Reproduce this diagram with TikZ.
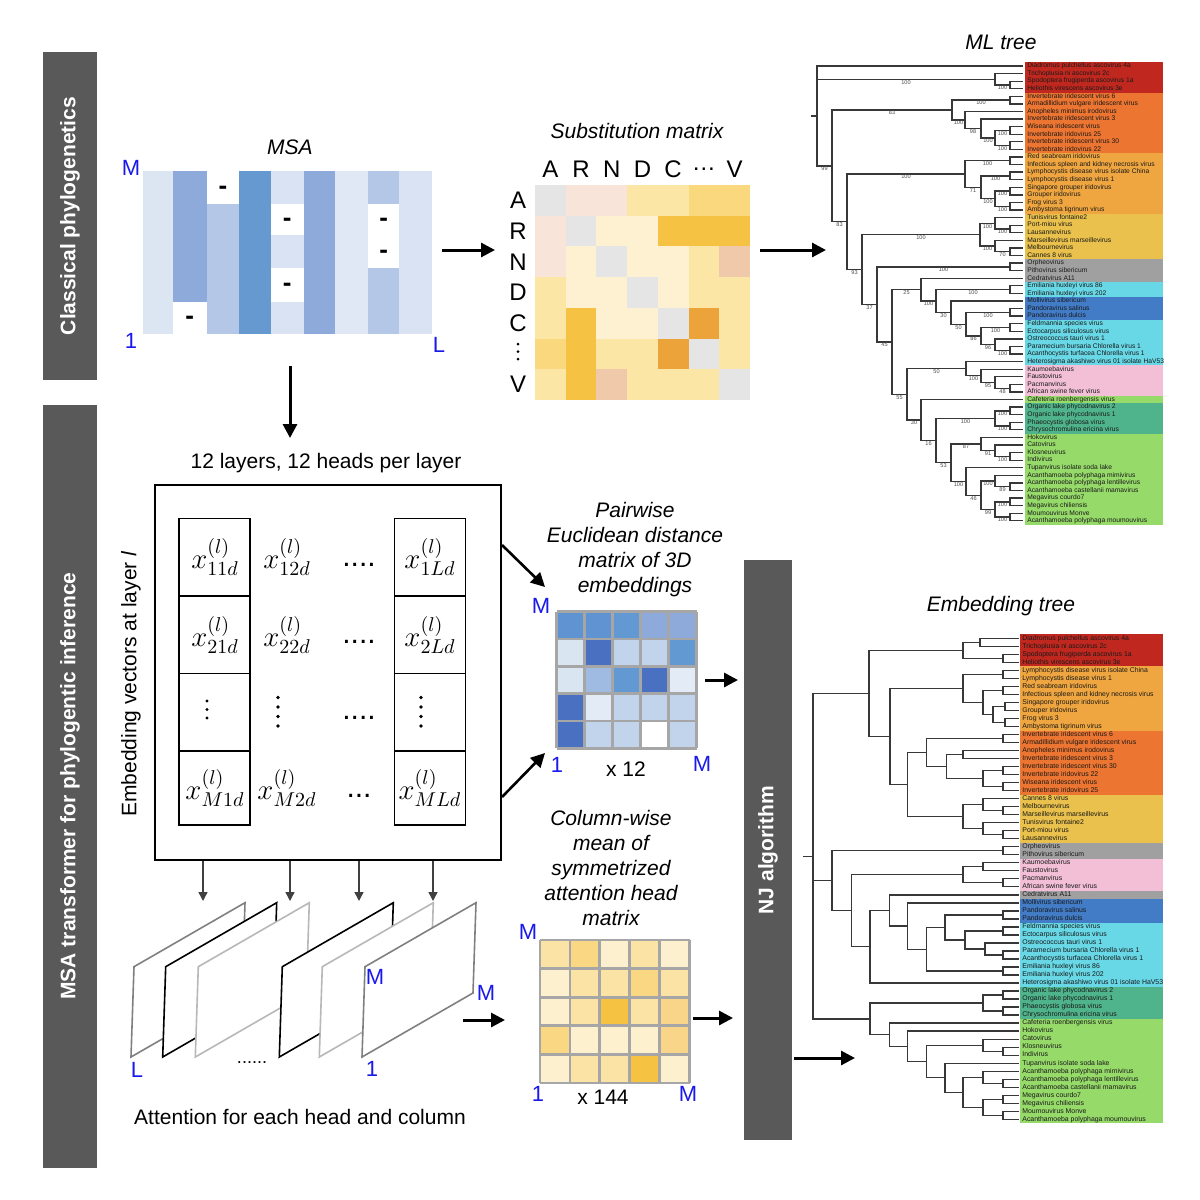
\documentclass[tikz,border=0pt]{standalone}
\usepackage{fontspec}
\setmainfont{Liberation Sans}
\usetikzlibrary{calc,arrows.meta}
\definecolor{barg}{HTML}{595959}
\definecolor{lblue}{RGB}{25,25,235}
% MSA
\definecolor{qa}{HTML}{DCE6F2}\definecolor{qb}{HTML}{8EAADB}\definecolor{qc}{HTML}{B4C7E7}
\definecolor{qd}{HTML}{6699D0}\definecolor{qe}{HTML}{DAE3F3}\definecolor{qf}{HTML}{DFE8F4}
% substitution
\definecolor{sg}{HTML}{E5E5E5}\definecolor{sp}{HTML}{F8E4D9}\definecolor{sc}{HTML}{FDF1D2}
\definecolor{sl}{HTML}{FCE6A6}\definecolor{sy}{HTML}{FAD97E}\definecolor{ss}{HTML}{F5C244}
\definecolor{so}{HTML}{ECA43A}\definecolor{sa}{HTML}{F0C9AA}
% distance
\definecolor{da}{HTML}{5F93D1}\definecolor{db}{HTML}{6299D3}\definecolor{dc}{HTML}{8EAADB}
\definecolor{dd}{HTML}{4A70C1}\definecolor{dl}{HTML}{DAE5F2}\definecolor{dm}{HTML}{C2D4EC}
\definecolor{dx}{HTML}{9FBBE1}\definecolor{dw}{HTML}{FFFFFF}\definecolor{de}{HTML}{E3ECF6}
% attention
\definecolor{aa}{HTML}{FDF0CF}\definecolor{ab}{HTML}{FBE3A6}\definecolor{ac}{HTML}{F9D783}
\definecolor{ad}{HTML}{F5C242}\definecolor{ae}{HTML}{F9D58A}
\definecolor{gridg}{HTML}{A6A6A6}
% tree groups
\definecolor{tred}{HTML}{C0281F}\definecolor{torange}{HTML}{EC7531}\definecolor{tlorange}{HTML}{EFA640}
\definecolor{tyellow}{HTML}{E9C14C}\definecolor{tgrey}{HTML}{A0A0A0}\definecolor{tcyan}{HTML}{68D8E6}
\definecolor{tblue}{HTML}{427BC6}\definecolor{tpink}{HTML}{F2BFD7}\definecolor{tgreen}{HTML}{96DA6A}
\definecolor{tteal}{HTML}{4FB48B}
\definecolor{pgray}{HTML}{808080}\definecolor{plgray}{HTML}{B8B8B8}

\newcommand\mlclade[6]{%
  \path ($(#3)!0.5!(#5)$) coordinate (tmp);
  \coordinate (#1) at (tmp -| #2,0);
  \draw[br] (#1) |- node[bs,pos=0.75]{#4} (#3);
  \draw[br] (#1) |- node[bs,pos=0.75]{#6} (#5);
}
\newcommand\emclade[4]{%
  \path ($(#3)!0.5!(#4)$) coordinate (tmp);
  \coordinate (#1) at (tmp -| #2,0);
  \draw[br] (#1) |- (#3);
  \draw[br] (#1) |- (#4);
}
\newcommand\mlbox[3]{\fill[#3] (1025,{66+(#1-1)*7.58-3.79}) rectangle (1163,{66+(#2-1)*7.58+3.79});}
\newcommand\embox[3]{\fill[#3] (1020,{638.3+(#1-1)*8.017-4.01}) rectangle (1163,{638.3+(#2-1)*8.017+4.01});}

\begin{document}
\begin{tikzpicture}[x=0.5pt,y=-0.5pt,
  br/.style={draw=black!78,line width=0.65pt},
  bs/.style={anchor=north,inner sep=0.15pt,font=\fontsize{2.8}{3}\selectfont,text=black!70},
  leaf/.style={anchor=west,inner sep=0pt,font=\fontsize{3.35}{3.5}\selectfont,text=black!90,text height=2.4pt,text depth=0.6pt},
  bigarr/.style={line width=1.5pt,-{Triangle[length=7pt,width=7pt]}},
  smarr/.style={draw=black!75,line width=0.7pt,-{Triangle[length=4.5pt,width=4.5pt]}},
  bartext/.style={rotate=90,text=white,font=\fontsize{10.5}{12}\selectfont\bfseries},
  lbl/.style={text=lblue,font=\fontsize{11}{11}\selectfont,inner sep=0pt},
  ttl/.style={font=\fontsize{10.5}{12.5}\selectfont\itshape,align=center,inner sep=0pt},
  body/.style={font=\fontsize{10.5}{12.5}\selectfont,inner sep=0pt},
  mth/.style={font=\fontsize{14}{14}\selectfont,inner sep=0pt},
  gapdash/.style={font=\fontsize{13}{13}\selectfont\bfseries,inner sep=0pt,yshift=-1.4pt}
]
\fill[white] (0,0) rectangle (1200,1200);
\useasboundingbox (0,0) rectangle (1200,1200);

% ---------- side bars ----------
\fill[barg] (43,52) rectangle (97,380);
\node[bartext] (bar1) at (70,216) {Classical phylogenetics};
\fill[barg] (43,405) rectangle (97,1168);
\node[bartext] (bar2) at (70,786) {MSA transformer for phylogentic inference};
\fill[barg] (744,560) rectangle (792,1140);
\node[bartext] (nj) at (768,850) {NJ algorithm};

% ---------- MSA ----------
\node[ttl] (msat) at (290,147) {MSA};
\fill[qa] (142.7,170.7) rectangle (172.7,334);
\fill[qb] (172.7,170.7) rectangle (206.7,301.7);
\fill[qc] (206.7,204) rectangle (239.3,334);
\fill[qd] (239.3,170.7) rectangle (270.7,334);
\fill[qe] (270.7,170.7) rectangle (304,204);
\fill[qe] (270.7,235) rectangle (304,268.3);
\fill[qe] (270.7,301.7) rectangle (304,334);
\fill[qb] (304,170.7) rectangle (335,334);
\fill[qf] (335,170.7) rectangle (368.3,334);
\fill[qc] (368.3,170.7) rectangle (399,204);
\fill[qc] (368.3,268.3) rectangle (399,334);
\fill[qe] (399,170.7) rectangle (432.3,334);
\node[gapdash] (g1) at (189.7,318) {-};
\node[gapdash] (g2) at (223,187.3) {-};
\node[gapdash] (g3) at (287.3,219.5) {-};
\node[gapdash] (g4) at (287.3,285) {-};
\node[gapdash] (g5) at (383.7,219.5) {-};
\node[gapdash] (g6) at (383.7,251.7) {-};
\node[lbl] (msaM) at (131,168) {M};
\node[lbl] (msa1) at (131,341) {1};
\node[lbl] (msaL) at (439,345) {L};

% ---------- substitution matrix ----------
\node[ttl] (subt) at (637,131) {Substitution matrix};
\foreach \row [count=\r] in {{sg,sp,sp,sl,sl,sy,sy},{sp,sg,sc,sc,ss,ss,ss},{sp,sc,sg,sc,sc,sl,sa},{sl,sc,sc,sg,sc,sl,sl},{sl,ss,sc,sc,sg,so,sl},{sy,ss,sl,sl,so,sg,sl},{sl,ss,sa,sl,sl,sl,sg}}{
  \foreach \c [count=\k] in \row {
    \fill[\c] ({535+(\k-1)*30.7},{185+(\r-1)*30.7}) rectangle ++(30.7,30.7);
  }
}
\foreach \t [count=\k] in {A,R,N,D,C,…,V}{
  \node[body,font=\fontsize{12}{12}\selectfont] (sh\k) at ({535+(\k-0.5)*30.7},169) {\t};
}
\foreach \t [count=\k] in {A,R,N,D,C}{
  \node[body,font=\fontsize{12}{12}\selectfont] (sv\k) at (518,{185+(\k-0.5)*30.7}) {\t};
}
\foreach \y in {344,351.5,359}{\fill (518,\y) circle (1.5);}
\node[body,font=\fontsize{12}{12}\selectfont] (sv7) at (518,384.6) {V};

% ---------- arrows top ----------
\coordinate (a1s) at (442,250); \coordinate (a1e) at (495,250);
\draw[bigarr] (a1s) -- (a1e);
\coordinate (a2s) at (760,250); \coordinate (a2e) at (826,250);
\draw[bigarr] (a2s) -- (a2e);
\coordinate (a3s) at (290,366); \coordinate (a3e) at (290,438);
\draw[bigarr] (a3s) -- (a3e);

% ---------- embedding box ----------
\node[body] (layers) at (326,463) {12 layers, 12 heads per layer};
\draw[line width=1pt] (155,485) rectangle (501,860);
\node[body,rotate=90] (embv) at (131,684) {Embedding vectors at layer \textit{l}};
\foreach \x in {179,394.3}{
  \draw[line width=0.6pt] (\x,518.3) rectangle ({\x+71},825);
  \foreach \y in {596,673.3,751}{\draw[line width=0.6pt] (\x,\y) -- ({\x+71},\y);}
}
\node[mth] (e11) at (215,557) {$x^{(l)}_{11d}$};
\node[mth] (e12) at (287,557) {$x^{(l)}_{12d}$};
\node[mth] (e1L) at (430,557) {$x^{(l)}_{1Ld}$};
\node[mth] (e21) at (215,634.7) {$x^{(l)}_{21d}$};
\node[mth] (e22) at (287,634.7) {$x^{(l)}_{22d}$};
\node[mth] (e2L) at (430,634.7) {$x^{(l)}_{2Ld}$};
\node[mth] (eM1) at (215,788) {$x^{(l)}_{M1d}$};
\node[mth] (eM2) at (287,788) {$x^{(l)}_{M2d}$};
\node[mth] (eML) at (430,788) {$x^{(l)}_{MLd}$};
\foreach \y in {701,709.5,718}{\fill (207,\y) circle (1.7);}
\foreach \y in {697.5,707,716.5,726}{\fill (278,\y) circle (1.8); \fill (421,\y) circle (1.8);}
\node[inner sep=0pt,font=\fontsize{15}{15}\selectfont] (h1) at (359,565) {....};
\node[inner sep=0pt,font=\fontsize{15}{15}\selectfont] (h2) at (359,642) {....};
\node[inner sep=0pt,font=\fontsize{15}{15}\selectfont] (h3) at (359,718) {....};
\node[inner sep=0pt,font=\fontsize{15}{15}\selectfont] (h4) at (359,796) {...};

% ---------- arrows to matrices ----------
\coordinate (b1s) at (502,545); \coordinate (b1e) at (545,587);
\draw[bigarr,line width=1.3pt] (b1s) -- (b1e);
\coordinate (b2s) at (502,797); \coordinate (b2e) at (545,753);
\draw[bigarr,line width=1.3pt] (b2s) -- (b2e);

% ---------- distance matrix ----------
\node[ttl] (pwt) at (635,549.5) {Pairwise\\Euclidean distance\\matrix of 3D\\embeddings};
\foreach \row [count=\r] in {{da,da,db,dc,dc},{dl,dd,dm,dm,db},{dl,dx,db,dd,de},{dd,de,dm,dm,dm},{dd,dm,dm,dw,dm}}{
  \foreach \c [count=\k] in \row {
    \fill[\c] ({556.7+(\k-1)*28},{611.7+(\r-1)*27.3}) rectangle ++(28,27.3);
  }
}
\foreach \i in {0,...,5}{
  \draw[gridg,line width=1.4pt] ({556.7+\i*28},611.7) -- ({556.7+\i*28},748.2);
  \draw[gridg,line width=1.4pt] (556.7,{611.7+\i*27.3}) -- (696.7,{611.7+\i*27.3});
}
\node[lbl] (dM) at (541,606) {M};
\node[lbl] (d1) at (557,765) {1};
\node[body] (d12) at (626,769) {x 12};
\node[lbl] (dM2) at (702,764) {M};
\coordinate (c1s) at (705,680); \coordinate (c1e) at (738,680);
\draw[bigarr] (c1s) -- (c1e);

% ---------- attention planes ----------
\foreach \xl/\col in {134/pgray,165.7/black,198.3/plgray,282.3/black,322.3/plgray,365/pgray}{
  \filldraw[fill=white,draw=\col,line width=0.8pt] (\xl,966.7) -- ({\xl+111},902.7) -- ({\xl+108},993) -- ({\xl-3},1057) -- cycle;
}
\foreach \x in {203,290,359,433}{
  \draw[smarr] (\x,861) -- (\x,901);
}
\node[lbl] (pM1) at (375,977) {M};
\node[lbl] (pM2) at (486,993) {M};
\node[lbl] (pL) at (137,1070) {L};
\node[lbl] (p1) at (372,1069) {1};
\node[inner sep=0pt,font=\fontsize{9}{9}\selectfont] (pdots) at (252,1063) {......};
\node[body] (attt) at (300,1117) {Attention for each head and column};
\coordinate (d1s) at (463,1020); \coordinate (d1e) at (505,1020);
\draw[bigarr] (d1s) -- (d1e);

% ---------- attention matrix ----------
\node[ttl] (cwt) at (611,868) {Column-wise\\mean of\\symmetrized\\attention head\\matrix};
\foreach \row [count=\r] in {{ab,ac,aa,ab,aa},{aa,ab,ab,ac,ab},{aa,ab,ad,ab,ae},{ac,aa,aa,aa,ae},{aa,ab,ab,ad,aa}}{
  \foreach \c [count=\k] in \row {
    \fill[\c] ({540+(\k-1)*29.9},{940+(\r-1)*28.6}) rectangle ++(29.9,28.6);
  }
}
\foreach \i in {0,...,5}{
  \draw[gridg,line width=1.4pt] ({540+\i*29.9},940) -- ({540+\i*29.9},1083);
  \draw[gridg,line width=1.4pt] (540,{940+\i*28.6}) -- (689.5,{940+\i*28.6});
}
\node[lbl] (aM) at (528,932) {M};
\node[lbl] (a1l) at (538,1094) {1};
\node[body] (a144) at (603,1097) {x 144};
\node[lbl] (aM2) at (688,1094) {M};
\coordinate (e1s) at (693,1018); \coordinate (e1e) at (733,1018);
\draw[bigarr] (e1s) -- (e1e);
\coordinate (f1s) at (794,1058); \coordinate (f1e) at (855,1058);
\draw[bigarr] (f1s) -- (f1e);

% ---------- ML tree ----------
\node[ttl] (mlt) at (1001,42) {ML tree};
\mlbox{1}{4}{tred}\mlbox{5}{12}{torange}\mlbox{13}{20}{tlorange}\mlbox{21}{26}{tyellow}
\mlbox{27}{29}{tgrey}\mlbox{30}{31}{tcyan}\mlbox{32}{34}{tblue}\mlbox{35}{40}{tcyan}
\mlbox{41}{44}{tpink}\mlbox{45}{45}{tgreen}\mlbox{46}{49}{tteal}\mlbox{50}{61}{tgreen}
\foreach \t [count=\i] in {Diadromus pulchellus ascovirus 4a,Trichoplusia ni ascovirus 2c,Spodoptera frugiperda ascovirus 1a,Heliothis virescens ascovirus 3e,Invertebrate iridescent virus 6,Armadillidium vulgare iridescent virus,Anopheles minimus irodovirus,Invertebrate iridescent virus 3,Wiseana iridescent virus,Invertebrate iridovirus 25,Invertebrate iridescent virus 30,Invertebrate iridovirus 22,Red seabream iridovirus,Infectious spleen and kidney necrosis virus,Lymphocystis disease virus isolate China,Lymphocystis disease virus 1,Singapore grouper iridovirus,Grouper iridovirus,Frog virus 3,Ambystoma tigrinum virus,Tunisvirus fontaine2,Port-miou virus,Lausannevirus,Marseillevirus marseillevirus,Melbournevirus,Cannes 8 virus,Orpheovirus,Pithovirus sibericum,Cedratvirus A11,Emiliania huxleyi virus 86,Emiliania huxleyi virus 202,Mollivirus sibericum,Pandoravirus salinus,Pandoravirus dulcis,Feldmannia species virus,Ectocarpus siliculosus virus,Ostreococcus tauri virus 1,Paramecium bursaria Chlorella virus 1,Acanthocystis turfacea Chlorella virus 1,Heterosigma akashiwo virus 01 isolate HaV53,Kaumoebavirus,Faustovirus,Pacmanvirus,African swine fever virus,Cafeteria roenbergensis virus,Organic lake phycodnavirus 2,Organic lake phycodnavirus 1,Phaeocystis globosa virus,Chrysochromulina ericina virus,Hokovirus,Catovirus,Klosneuvirus,Indivirus,Tupanvirus isolate soda lake,Acanthamoeba polyphaga mimivirus,Acanthamoeba polyphaga lentillevirus,Acanthamoeba castellanii mamavirus,Megavirus courdo7,Megavirus chiliensis,Moumouvirus Monve,Acanthamoeba polyphaga moumouvirus}{
  \node[leaf] (mll\i) at (1027,{66+(\i-1)*7.58}) {\t};
  \coordinate (a\i) at (1023,{66+(\i-1)*7.58});
}
\mlclade{m34}{1010}{a3}{}{a4}{}
\mlclade{m2}{995}{a2}{}{m34}{100}
\mlclade{m56}{1010}{a5}{}{a6}{}
\mlclade{m910}{1010}{a9}{}{a10}{}
\mlclade{m1112}{1010}{a11}{}{a12}{}
\mlclade{mn9}{995}{m910}{100}{m1112}{100}
\mlclade{mn8}{981}{a8}{}{mn9}{100}
\mlclade{mn7}{965}{a7}{}{mn8}{98}
\mlclade{mC}{952}{m56}{100}{mn7}{100}
\mlclade{m1314}{1010}{a13}{}{a14}{}
\mlclade{m1516}{1010}{a15}{}{a16}{}
\mlclade{m1718}{1010}{a17}{}{a18}{}
\mlclade{m1920}{1010}{a19}{}{a20}{}
\mlclade{mH}{995}{m1718}{100}{m1920}{100}
\mlclade{mG}{981}{m1516}{100}{mH}{100}
\mlclade{mE}{965}{m1314}{100}{mG}{71}
\mlclade{m2223}{1010}{a22}{}{a23}{}
\mlclade{m21}{995}{a21}{}{m2223}{100}
\mlclade{m2526}{1010}{a25}{}{a26}{}
\mlclade{m24}{995}{a24}{}{m2526}{70}
\mlclade{mI}{980}{m21}{100}{m24}{100}
\mlclade{m2728}{1010}{a27}{}{a28}{}
\mlclade{m3031}{1010}{a30}{}{a31}{}
\mlclade{m3334}{1010}{a33}{}{a34}{}
\mlclade{m3536}{1010}{a35}{}{a36}{}
\mlclade{m3839}{1010}{a38}{}{a39}{}
\mlclade{mT}{995}{a37}{}{m3839}{100}
\mlclade{mS}{981}{m3536}{100}{mT}{96}
\mlclade{mQb}{966}{m3334}{100}{mS}{86}
\mlclade{mQ}{951}{a32}{}{mQb}{50}
\mlclade{mP}{936}{m3031}{100}{mQ}{30}
\mlclade{mM}{921}{a29}{}{mP}{100}
\mlclade{m4344}{1010}{a43}{}{a44}{}
\mlclade{mkb}{995}{a42}{}{m4344}{48}
\mlclade{mka}{981}{a41}{}{mkb}{95}
\mlclade{mK}{966}{a40}{}{mka}{100}
\mlclade{m4647}{1010}{a46}{}{a47}{}
\mlclade{m4849}{1010}{a48}{}{a49}{}
\mlclade{mPh}{995}{m4647}{100}{m4849}{100}
\mlclade{m5253}{1010}{a52}{}{a53}{}
\mlclade{mk51}{995}{a51}{}{m5253}{100}
\mlclade{mKl}{981}{a50}{}{mk51}{91}
\mlclade{m5657}{1010}{a56}{}{a57}{}
\mlclade{mAp}{995}{a55}{}{m5657}{89}
\mlclade{m5859}{1010}{a58}{}{a59}{}
\mlclade{m6061}{1010}{a60}{}{a61}{}
\mlclade{mMg}{995}{m5859}{100}{m6061}{100}
\mlclade{mMmb}{981}{mAp}{100}{mMg}{99}
\mlclade{mMm}{966}{a54}{}{mMmb}{46}
\mlclade{mGrc}{951}{mKl}{87}{mMm}{100}
\mlclade{mGrb}{936}{mPh}{100}{mGrc}{53}
\mlclade{mGr}{921}{a45}{}{mGrb}{16}
\mlclade{mN}{907}{mK}{50}{mGr}{30}
\mlclade{mL}{892}{mM}{25}{mN}{55}
\mlclade{mJ}{877}{m2728}{100}{mL}{45}
\mlclade{mF}{862}{mI}{100}{mJ}{37}
\mlclade{mD}{847}{mE}{100}{mF}{93}
\mlclade{mB}{832}{mC}{83}{mD}{83}
\draw[br] (a1) -- (a1 -| 817,0) -- (mB -| 817,0) -- (mB) node[bs,midway]{99};
\draw[br] (m2 -| 817,0) -- (m2) node[bs,midway]{100};
\path ($(a1)!0.5!(mB)$) coordinate (mroot);
\draw[br] (mroot -| 811,0) -- (mroot -| 817,0);

% ---------- Embedding tree ----------
\node[ttl] (emt) at (1001,606) {Embedding tree};
\embox{1}{4}{tred}\embox{5}{12}{tlorange}\embox{13}{20}{torange}\embox{21}{26}{tyellow}
\embox{27}{28}{tgrey}\embox{29}{32}{tpink}\embox{33}{33}{tgrey}\embox{34}{36}{tblue}
\embox{37}{44}{tcyan}\embox{45}{48}{tteal}\embox{49}{61}{tgreen}
\foreach \t [count=\i] in {Diadromus pulchellus ascovirus 4a,Trichoplusia ni ascovirus 2c,Spodoptera frugiperda ascovirus 1a,Heliothis virescens ascovirus 3e,Lymphocystis disease virus isolate China,Lymphocystis disease virus 1,Red seabream iridovirus,Infectious spleen and kidney necrosis virus,Singapore grouper iridovirus,Grouper iridovirus,Frog virus 3,Ambystoma tigrinum virus,Invertebrate iridescent virus 6,Armadillidium vulgare iridescent virus,Anopheles minimus irodovirus,Invertebrate iridescent virus 3,Invertebrate iridescent virus 30,Invertebrate iridovirus 22,Wiseana iridescent virus,Invertebrate iridovirus 25,Cannes 8 virus,Melbournevirus,Marseillevirus marseillevirus,Tunisvirus fontaine2,Port-miou virus,Lausannevirus,Orpheovirus,Pithovirus sibericum,Kaumoebavirus,Faustovirus,Pacmanvirus,African swine fever virus,Cedratvirus A11,Mollivirus sibericum,Pandoravirus salinus,Pandoravirus dulcis,Feldmannia species virus,Ectocarpus siliculosus virus,Ostreococcus tauri virus 1,Paramecium bursaria Chlorella virus 1,Acanthocystis turfacea Chlorella virus 1,Emiliania huxleyi virus 86,Emiliania huxleyi virus 202,Heterosigma akashiwo virus 01 isolate HaV53,Organic lake phycodnavirus 2,Organic lake phycodnavirus 1,Phaeocystis globosa virus,Chrysochromulina ericina virus,Cafeteria roenbergensis virus,Hokovirus,Catovirus,Klosneuvirus,Indivirus,Tupanvirus isolate soda lake,Acanthamoeba polyphaga mimivirus,Acanthamoeba polyphaga lentillevirus,Acanthamoeba castellanii mamavirus,Megavirus courdo7,Megavirus chiliensis,Moumouvirus Monve,Acanthamoeba polyphaga moumouvirus}{
  \node[leaf,font=\fontsize{3.45}{3.6}\selectfont] (eml\i) at (1022,{638.3+(\i-1)*8.017}) {\t};
  \coordinate (b\i) at (1019,{638.3+(\i-1)*8.017});
}
\emclade{e12}{980}{b1}{b2}
\emclade{e34}{1003}{b3}{b4}
\emclade{eAs}{963}{e12}{e34}
\emclade{e56}{1003}{b5}{b6}
\emclade{e78}{1003}{b7}{b8}
\emclade{e910}{1005}{b9}{b10}
\emclade{e1112}{1005}{b11}{b12}
\emclade{e9t}{993}{e910}{e1112}
\emclade{e7t}{983}{e78}{e9t}
\emclade{eIa}{963}{e56}{e7t}
\emclade{e1314}{1003}{b13}{b14}
\emclade{e1516}{963}{b15}{b16}
\emclade{e1718}{1003}{b17}{b18}
\emclade{e1920}{1003}{b19}{b20}
\emclade{e17t}{983}{e1718}{e1920}
\emclade{e15t}{946.7}{e1516}{e17t}
\emclade{eIb}{926.7}{e1314}{e15t}
\emclade{e2223}{1003}{b22}{b23}
\emclade{e21}{983}{b21}{e2223}
\emclade{e2526}{1003}{b25}{b26}
\emclade{e24}{983}{b24}{e2526}
\emclade{eMa}{963}{e21}{e24}
\emclade{eW}{907.7}{eIb}{eMa}
\emclade{eQ}{890}{eIa}{eW}
\emclade{eTa}{869}{eAs}{eQ}
\emclade{e2728}{1003}{b27}{b28}
\emclade{e2930}{983}{b29}{b30}
\emclade{e3132}{1003}{b31}{b32}
\emclade{ePk}{963}{e2930}{e3132}
\emclade{e3536}{1003}{b35}{b36}
\emclade{e3738}{1003}{b37}{b38}
\emclade{e4041}{1003}{b40}{b41}
\emclade{e39}{985}{b39}{e4041}
\emclade{eChl}{965}{e3738}{e39}
\emclade{eGc}{945}{e3536}{eChl}
\emclade{e4243}{1003}{b42}{b43}
\emclade{eGd}{926.7}{eGc}{e4243}
\emclade{eGb}{907.7}{b34}{eGd}
\emclade{eGa}{889.3}{b33}{eGb}
\emclade{eZ}{870}{eGa}{b44}
\emclade{eY}{851.7}{ePk}{eZ}
\emclade{eX}{832}{e2728}{eY}
\emclade{e4546}{1003}{b45}{b46}
\emclade{e4748}{1003}{b47}{b48}
\emclade{ePh}{983}{e4546}{e4748}
\emclade{e5253}{1003}{b52}{b53}
\emclade{e51}{983}{b51}{e5253}
\emclade{e5657}{1003}{b56}{b57}
\emclade{e55}{983}{b55}{e5657}
\emclade{e5859}{1003}{b58}{b59}
\emclade{e6061}{1003}{b60}{b61}
\emclade{eMg}{983}{e5859}{e6061}
\emclade{eMib}{963}{e55}{eMg}
\emclade{eMi}{945}{b54}{eMib}
\emclade{eKl}{926.7}{e51}{eMi}
\emclade{eHo}{907.7}{b50}{eKl}
\emclade{eCa}{889.3}{b49}{eHo}
\emclade{eTb}{870}{ePh}{eCa}
\draw[br] (eTa) -- (eTa -| 813,0) -- (eTb -| 813,0) -- (eTb);
\draw[br] (eX -| 813,0) -- (eX);
\path ($(eTa)!0.5!(eTb)$) coordinate (eroot);
\draw[br] (eroot -| 803,0) -- (eroot -| 813,0);
\end{tikzpicture}
\end{document}
